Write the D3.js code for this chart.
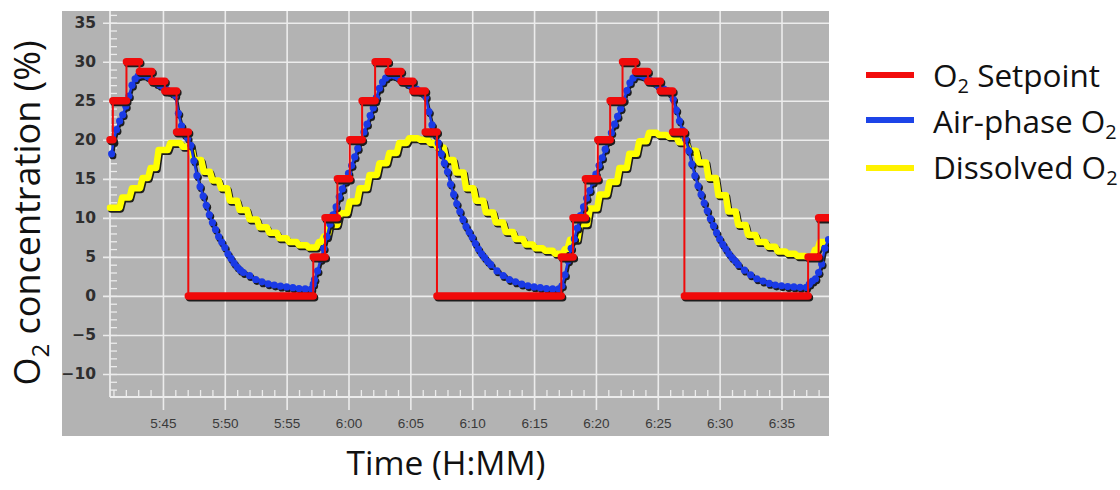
<!DOCTYPE html>
<html>
<head>
<meta charset="utf-8">
<script src="https://cdn.jsdelivr.net/npm/d3@7"></script>
<style>
  body { margin: 0; background: #fff; }
</style>
</head>
<body>
<div id="chart"></div>
<script>
	// all times are minutes after 5:00
	var xTickLabels = ["5:45", "5:50", "5:55", "6:00", "6:05", "6:10", "6:15", "6:20", "6:25", "6:30", "6:35"];
	var yTicks = [-10, -5, 0, 5, 10, 15, 20, 25, 30, 35];
	var timeStart = 40.72, timeEnd = 98.84;

	// O2 setpoint : step starts
	var setpointTimes = [40.72, 40.95, 42.05, 43.1, 44.1, 45.15, 46.1, 47.05,
		57.15, 58.1, 59.1, 60.1, 61.1, 62.15, 63.2, 64.25, 65.2, 66.2, 67.15,
		77.2, 78.15, 79.15, 80.15, 81.15, 82.15, 83.2, 84.2, 85.2, 86.2, 87.15,
		97.15, 98.0];
	var setpointValues = [20, 25, 30, 28.75, 27.5, 26.25, 21, 0,
		5, 10, 15, 20, 25, 30, 28.75, 27.5, 26.25, 21, 0,
		5, 10, 15, 20, 25, 30, 28.75, 27.5, 26.25, 21, 0,
		5, 10];

	// air-phase O2 : [minute, %]
	var airPhase = [
		[40.85, 18.2], [41.0, 19.8], [41.25, 21.3], [41.5, 22.4], [41.75, 23.2], [42.0, 24.3], [42.25, 25.6], [42.5, 27.0],
		[42.75, 27.8], [43.0, 28.2], [43.25, 28.3], [43.5, 28.3], [43.75, 28.1], [44.0, 27.9], [44.25, 27.5], [44.5, 27.2],
		[44.75, 27.0], [45.0, 26.8], [45.25, 26.5], [45.5, 26.2], [45.75, 26.0], [46.0, 25.7], [46.25, 23.4], [46.5, 21.8],
		[46.75, 20.7], [47.0, 20.2], [47.25, 19.3], [47.5, 17.3], [47.75, 15.4], [48.0, 14.0], [48.25, 12.8], [48.5, 11.6],
		[48.75, 10.4], [49.0, 9.4], [49.25, 8.5], [49.5, 7.6], [49.75, 6.9], [50.0, 6.2], [50.25, 5.4], [50.5, 4.8],
		[50.75, 4.2], [51.0, 3.7], [51.25, 3.3], [51.5, 3.0], [52.0, 2.6], [52.5, 2.1], [53.0, 1.8], [53.5, 1.55],
		[54.0, 1.4], [54.5, 1.25], [55.0, 1.15], [55.5, 1.05], [56.0, 0.95], [56.5, 0.9], [57.0, 0.9],
		[57.15, 1.5], [57.25, 2.1], [57.5, 3.2], [57.75, 4.7], [58.0, 6.1], [58.25, 7.6], [58.5, 9.2], [58.75, 10.4],
		[59.0, 11.4], [59.25, 12.7], [59.5, 13.7], [59.75, 14.7], [60.0, 15.7], [60.25, 16.7], [60.5, 17.8], [60.75, 18.9],
		[61.0, 19.9], [61.25, 21.0], [61.5, 22.0], [61.75, 23.1], [62.0, 24.1], [62.25, 25.4], [62.5, 26.6], [62.75, 27.4],
		[63.0, 27.9], [63.25, 28.2], [63.5, 28.3], [63.75, 28.2], [64.0, 28.0], [64.25, 27.8], [64.5, 27.5], [64.75, 27.2],
		[65.0, 27.0], [65.25, 26.8], [65.5, 26.5], [65.75, 26.2], [66.0, 26.0], [66.25, 25.5], [66.5, 23.6], [66.75, 21.9],
		[67.0, 20.7], [67.25, 19.6], [67.5, 18.2], [67.75, 17.0], [68.0, 15.9], [68.25, 14.3], [68.5, 13.0], [68.75, 11.8],
		[69.0, 10.8], [69.25, 9.8], [69.5, 8.9], [69.75, 8.2], [70.0, 7.5], [70.25, 6.7], [70.5, 6.0], [70.75, 5.4],
		[71.0, 4.9], [71.25, 4.4], [71.5, 4.0], [72.0, 3.2], [72.5, 2.6], [73.0, 2.1], [73.5, 1.8], [74.0, 1.5],
		[74.5, 1.3], [75.0, 1.15], [75.5, 1.05], [76.0, 0.95], [76.5, 0.9], [77.0, 0.9],
		[77.25, 1.3], [77.5, 2.7], [77.75, 4.5], [78.0, 6.1], [78.25, 7.3], [78.5, 8.7], [78.75, 10.3], [79.0, 11.4],
		[79.25, 12.5], [79.5, 13.5], [79.75, 14.6], [80.0, 15.6], [80.25, 16.7], [80.5, 17.7], [80.75, 18.8], [81.0, 19.9],
		[81.25, 20.9], [81.5, 22.0], [81.75, 23.0], [82.0, 24.0], [82.25, 25.1], [82.5, 26.3], [82.75, 27.3], [83.0, 27.9],
		[83.25, 28.3], [83.5, 28.3], [83.75, 28.2], [84.0, 28.0], [84.25, 27.8], [84.5, 27.5], [84.75, 27.3], [85.0, 27.0],
		[85.25, 26.8], [85.5, 26.5], [85.75, 26.3], [86.0, 26.0], [86.25, 25.2], [86.5, 23.8], [86.75, 22.4], [87.0, 21.2],
		[87.25, 20.1], [87.5, 18.6], [87.75, 16.9], [88.0, 15.4], [88.25, 14.1], [88.5, 13.0], [88.75, 11.9], [89.0, 10.9],
		[89.25, 9.9], [89.5, 9.0], [89.75, 8.1], [90.0, 7.3], [90.25, 6.6], [90.5, 6.0], [90.75, 5.4], [91.0, 4.9],
		[91.25, 4.5], [91.5, 4.0], [92.0, 3.3], [92.5, 2.7], [93.0, 2.2], [93.5, 1.9], [94.0, 1.6], [94.5, 1.4],
		[95.0, 1.3], [95.5, 1.2], [96.0, 1.15], [96.5, 1.1], [97.0, 1.1],
		[97.25, 1.5], [97.5, 1.9], [97.75, 2.2], [98.0, 3.0], [98.25, 4.1], [98.5, 6.1], [98.8, 7.2]
	];

	// dissolved O2 : step starts [minute, %]
	var dissolved = [
		[40.72, 11.3], [41.7, 12.6], [42.5, 13.8], [43.35, 15.1], [44.0, 16.4], [44.65, 18.7], [45.6, 19.6], [46.6, 19.1],
		[47.5, 17.4], [48.3, 15.9], [49.0, 14.8], [49.7, 13.8], [50.4, 12.2], [51.2, 11.0], [52.0, 9.8], [52.8, 8.8],
		[53.6, 8.1], [54.4, 7.4], [55.2, 6.9], [56.0, 6.5], [56.8, 6.2],
		[57.6, 6.9], [58.0, 7.6], [58.5, 9.1], [59.3, 10.6], [60.1, 12.1], [60.9, 13.8], [61.7, 15.5], [62.5, 17.0],
		[63.3, 18.3], [64.1, 19.6], [64.9, 20.2], [65.8, 20.0], [66.6, 19.6], [67.2, 19.0], [67.9, 17.4], [68.7, 15.8],
		[69.5, 13.8], [70.3, 12.2], [71.1, 10.7], [71.9, 9.4], [72.7, 8.2], [73.5, 7.3], [74.3, 6.6], [75.1, 6.1],
		[75.9, 5.8], [76.7, 5.4],
		[77.5, 6.0], [77.9, 7.2], [78.7, 9.2], [79.5, 11.2], [80.3, 13.0], [81.1, 14.6], [81.9, 16.4], [82.7, 18.2],
		[83.5, 19.8], [84.3, 20.9], [85.1, 20.6], [85.9, 20.4], [86.7, 19.7], [87.5, 18.6], [88.3, 17.1], [89.1, 15.1],
		[89.9, 12.9], [90.7, 10.8], [91.5, 9.1], [92.3, 7.8], [93.1, 6.9], [93.9, 6.3], [94.7, 5.7], [95.5, 5.4],
		[96.3, 5.1], [97.1, 5.0], [97.7, 5.9], [98.1, 6.9]
	];

	var legendItems = [
		{pre: "O", sub: "2", post: " Setpoint", color: "#f20d0d"},
		{pre: "Air-phase O", sub: "2", post: "", color: "#1c44e8"},
		{pre: "Dissolved O", sub: "2", post: "", color: "#fff200"}
	];

	var colSetpoint = "#f00a0a", colAir = "#1a3ae6", colDissolved = "#ffff00", colShadow = "#1c1c1c";
	var gridColor = "#ececec";
	var TitleFont = "'Open Sans', 'Noto Sans', sans-serif";

	/* =========================================
	 *  SVG, fond gris et échelles
	 * ======================================== */
	var pLeft = 110, pRight = 829, pTop = 11, pBottom = 397;

	var base = d3.timeParse("%H:%M")("5:00");
	function toTime(m) { return new Date(base.getTime() + m * 60000); }
	var parseHM = d3.timeParse("%H:%M");

	var x = d3.scaleTime()
		.domain([toTime(timeStart), toTime(timeEnd)])
		.range([pLeft, pRight]);

	var y = d3.scaleLinear()
		.domain([-12.95, 36.5])
		.range([pBottom, pTop]);

	var svg = d3.select("#chart")
		.append("svg")
		.attr("width", 1120)
		.attr("height", 490)
		.style("display", "block");

	svg.append("rect")
		.attr("width", 1120)
		.attr("height", 490)
		.attr("fill", "#fff");

	svg.append("rect")
		.attr("x", 62)
		.attr("y", 11)
		.attr("width", 767)
		.attr("height", 425)
		.attr("fill", "#b3b3b3");

	/* =========================================
	 *  Grille, axes, graduations
	 * ======================================== */
	var xTickDates = xTickLabels.map(parseHM);

	var gridX = svg.append("g")
		.attr("transform", "translate(0," + 410 + ")")
		.call(d3.axisBottom(x).tickValues(xTickDates).tickSize(-(410 - pTop)).tickFormat(""));
	var gridY = svg.append("g")
		.attr("transform", "translate(" + 103 + ",0)")
		.call(d3.axisLeft(y).tickValues(yTicks).tickSize(-(pRight - 103)).tickFormat(""));
	[gridX, gridY].forEach(function(g) {
		g.select(".domain").remove();
		g.selectAll("line").attr("stroke", gridColor).attr("stroke-width", 1.6);
	});

	// minor ticks
	var minorY = svg.append("g")
		.attr("transform", "translate(" + pLeft + ",0)")
		.call(d3.axisRight(y).tickValues(d3.range(-12, 37)).tickSize(7).tickFormat(""));
	var minorX = svg.append("g")
		.attr("transform", "translate(0," + pBottom + ")")
		.call(d3.axisTop(x).ticks(d3.timeMinute.every(1)).tickSize(7).tickFormat(""));
	[minorY, minorX].forEach(function(g) {
		g.select(".domain").remove();
		g.selectAll("line").attr("stroke", gridColor).attr("stroke-width", 1.3);
	});

	// axis lines
	svg.append("line").attr("x1", pLeft).attr("x2", pLeft).attr("y1", pTop).attr("y2", pBottom)
		.attr("stroke", gridColor).attr("stroke-width", 1.8);
	svg.append("line").attr("x1", pLeft).attr("x2", pRight).attr("y1", pBottom).attr("y2", pBottom)
		.attr("stroke", gridColor).attr("stroke-width", 1.8);

	// tick labels
	var labX = svg.append("g")
		.attr("transform", "translate(0," + pBottom + ")")
		.call(d3.axisBottom(x).tickValues(xTickDates).tickSize(0).tickPadding(21)
			.tickFormat(function(d, i) { return xTickLabels[i]; }));
	labX.select(".domain").remove();
	labX.selectAll("text")
		.attr("font-family", "'Liberation Sans', Arial, sans-serif")
		.attr("font-size", 13.5)
		.attr("fill", "#3a3a3a");

	var labY = svg.append("g")
		.attr("transform", "translate(" + pLeft + ",0)")
		.call(d3.axisLeft(y).tickValues(yTicks).tickSize(0).tickPadding(14));
	labY.select(".domain").remove();
	labY.selectAll("text")
		.attr("font-family", "'DejaVu Sans', Verdana, sans-serif")
		.attr("font-weight", "bold")
		.attr("font-size", 15.5)
		.attr("fill", "#2e2e2e");

	/* =========================================
	 *  Séries
	 * ======================================== */
	svg.append("clipPath").attr("id", "clip")
		.append("rect").attr("x", 106).attr("y", pTop).attr("width", pRight - 106).attr("height", pBottom - pTop);

	var line = d3.line()
		.x(function(d) { return x(toTime(d[0])); })
		.y(function(d) { return y(d[1]); });

	var plot = svg.append("g").attr("clip-path", "url(#clip)");

	// dissolved : staircase with short slanted risers
	var dissolvedPts = [];
	dissolved.forEach(function(d, i) {
		dissolvedPts.push(d);
		var next = i < dissolved.length - 1 ? dissolved[i + 1][0] - 0.2 : timeEnd + 0.5;
		dissolvedPts.push([next, d[1]]);
	});

	// setpoint plateaus
	var plateaus = setpointTimes.map(function(t, i) {
		var t2 = i < setpointTimes.length - 1 ? setpointTimes[i + 1] : timeEnd + 0.5;
		return [[t, setpointValues[i]], [t2, setpointValues[i]]];
	});
	var setpointPts = setpointTimes.map(function(t, i) { return [t, setpointValues[i]]; });
	setpointPts.push([timeEnd + 0.5, setpointValues[setpointValues.length - 1]]);

	function drawDissolved(g, color) {
		g.append("path")
			.attr("d", line.curve(d3.curveLinear)(dissolvedPts))
			.attr("fill", "none")
			.attr("stroke", color)
			.attr("stroke-width", 6.5)
			.attr("stroke-linejoin", "round")
			.attr("stroke-linecap", "round");
	}

	function drawAir(g, color) {
		g.append("path")
			.attr("d", line.curve(d3.curveLinear)(airPhase))
			.attr("fill", "none")
			.attr("stroke", color)
			.attr("stroke-width", 2.5);
		g.selectAll("circle")
			.data(airPhase)
			.join("circle")
			.attr("cx", function(d) { return x(toTime(d[0])); })
			.attr("cy", function(d) { return y(d[1]); })
			.attr("r", 3.6)
			.attr("fill", color);
	}

	function drawSetpoint(g, color, withLine) {
		if (withLine) {
			g.append("path")
				.attr("d", line.curve(d3.curveStepAfter)(setpointPts))
				.attr("fill", "none")
				.attr("stroke", color)
				.attr("stroke-width", 2);
		}
		g.selectAll("path.bar")
			.data(plateaus)
			.join("path")
			.attr("class", "bar")
			.attr("d", function(d) { return line.curve(d3.curveLinear)(d); })
			.attr("fill", "none")
			.attr("stroke", color)
			.attr("stroke-width", 7.5)
			.attr("stroke-linecap", "round");
	}

	var shift = "translate(1.3,1.8)";
	drawDissolved(plot.append("g").attr("transform", shift), colShadow);
	drawDissolved(plot.append("g"), colDissolved);
	drawAir(plot.append("g").attr("transform", shift), colShadow);
	drawAir(plot.append("g"), colAir);
	drawSetpoint(plot.append("g").attr("transform", shift), colShadow, false);
	drawSetpoint(plot.append("g"), colSetpoint, true);

	/* =========================================
	 *  Titres d'axes
	 * ======================================== */
	svg.append("text")
		.attr("x", 446)
		.attr("y", 475)
		.attr("text-anchor", "middle")
		.attr("font-family", TitleFont)
		.attr("font-size", 33.5)
		.attr("fill", "#111")
		.text("Time (H:MM)");

	var yTitle = svg.append("text")
		.attr("transform", "translate(40,213) rotate(-90)")
		.attr("text-anchor", "middle")
		.attr("font-family", TitleFont)
		.attr("font-size", 36)
		.attr("fill", "#111");
	yTitle.append("tspan").text("O");
	yTitle.append("tspan").attr("font-size", 24).attr("dy", 9).text("2");
	yTitle.append("tspan").attr("dy", -9).text(" concentration (%)");

	/* =========================================
	 *  Légende
	 * ======================================== */
	var legendLineY = [75, 120, 168];
	var legendTextY = [87, 132.5, 178.5];

	var legend = svg.append("g");
	legendItems.forEach(function(item, i) {
		legend.append("line")
			.attr("x1", 866).attr("x2", 914)
			.attr("y1", legendLineY[i]).attr("y2", legendLineY[i])
			.attr("stroke", item.color)
			.attr("stroke-width", 6);
		var t = legend.append("text")
			.attr("x", 933)
			.attr("y", legendTextY[i])
			.attr("font-family", TitleFont)
			.attr("font-size", 31.5)
			.attr("fill", "#111");
		t.append("tspan").text(item.pre);
		t.append("tspan").attr("font-size", 20).attr("dy", 6).text(item.sub);
		if (item.post) t.append("tspan").attr("dy", -6).text(item.post);
	});
</script>
</body>
</html>
